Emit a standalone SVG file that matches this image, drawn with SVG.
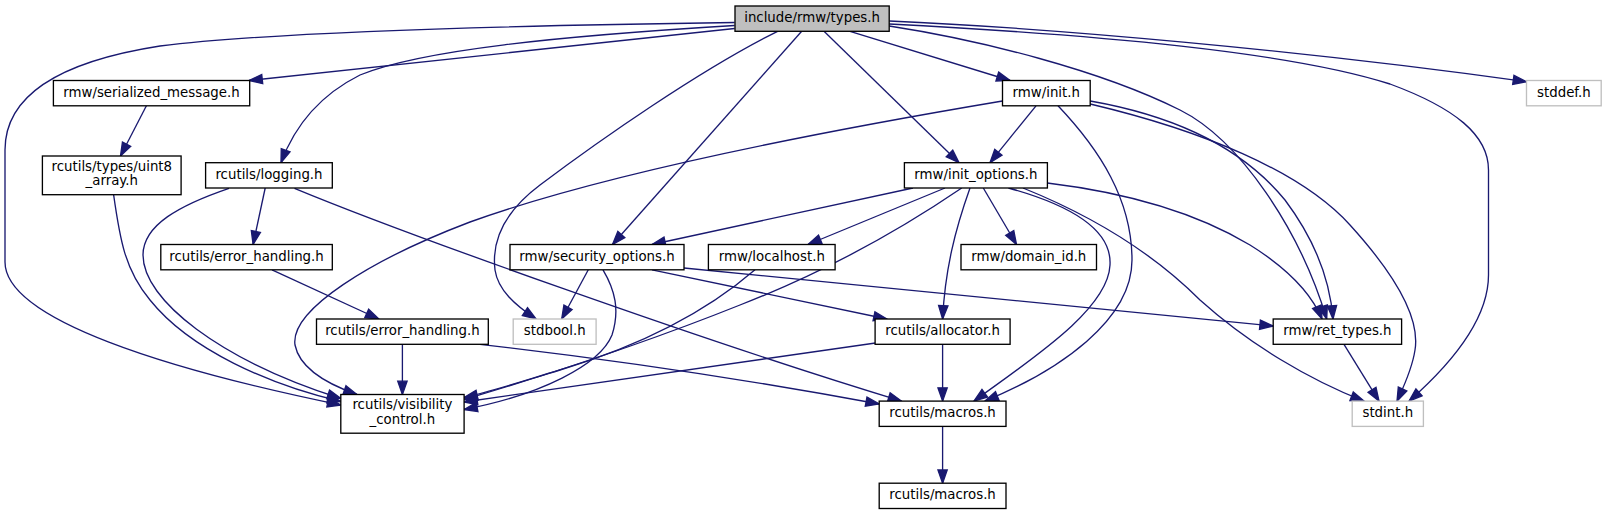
<svg xmlns="http://www.w3.org/2000/svg" width="1607" height="515" viewBox="0 0 1607 515">
<style>
.nd rect{fill:#ffffff;stroke:#000000;stroke-width:1.33}
.nd.g rect{stroke:#bfbfbf}
.nd.root rect{fill:#bfbfbf}
.nd text{font-family:"DejaVu Sans",Verdana,sans-serif;font-size:13.33px;text-anchor:middle;fill:#000000}
#edges path{fill:none;stroke:#191970;stroke-width:1.33;marker-end:url(#ah)}
</style>
<defs>
<marker id="ah" markerUnits="userSpaceOnUse" markerWidth="14" markerHeight="10" refX="13.3" refY="4.67" orient="auto" overflow="visible">
<path d="M0,0 L13.3,4.67 L0,9.33 Z" fill="#191970" stroke="#191970" stroke-width="1.33"/>
</marker>
</defs>
<rect width="1607" height="515" fill="#ffffff"/>
<g id="edges">
<path d="M734.6,28.5 L249,80.5"/>
<path d="M734.6,25.5 C560,36 420,50 360,75 C320,95 295,125 281,162.7"/>
<path d="M734.6,22.5 C550,25 280,31 160,46 C70,60 5,90 5,150 L5,262 C5,320 170,370 340.8,405"/>
<path d="M777.6,31.3 C700,70 600,140 540,185 C500,215 492,245 495,270 C498,290 515,305 536,319"/>
<path d="M801.7,31.3 L612.5,244.5"/>
<path d="M824,31.3 L959,162.7"/>
<path d="M850,31.3 L1010,80.5"/>
<path d="M889.2,26 C980,40 1100,70 1180,110 C1240,140 1300,230 1326.7,319"/>
<path d="M889.2,24 C1100,35 1290,52 1390,84 C1455,108 1488.5,135 1488.5,170 L1488.5,275 C1488.5,320 1450,365 1409,401.1"/>
<path d="M889.2,21 C1050,28 1300,50 1526.5,81.7"/>
<path d="M146.4,105.8 L120.5,156"/>
<path d="M113.6,194.7 C120,240 125,270 150,300 C190,350 270,385 340.8,401.5"/>
<path d="M265.2,188 L253.1,244.5"/>
<path d="M229,188.3 C180,205 143,225 143,255 C143,300 220,360 340.8,398.5"/>
<path d="M294.5,188.3 C400,232 700,340 901.5,401.1"/>
<path d="M272,269.8 L378.8,319"/>
<path d="M402.4,344.3 L402.4,394.5"/>
<path d="M480,344.3 C600,358 750,380 879.2,404"/>
<path d="M1036,105.8 L990,162.7"/>
<path d="M1002.5,101 C800,135 600,175 470,222 C370,260 290,310 295,345 C300,370 330,385 357,394.5"/>
<path d="M1090.2,101 C1170,115 1240,145 1285,200 C1315,240 1330,280 1333,319"/>
<path d="M1090.2,104 C1200,130 1300,170 1350,225 C1400,280 1420,320 1415,350 C1412,370 1403,388 1397,401.1"/>
<path d="M1058,105.8 C1100,150 1132,200 1132,260 C1132,320 1060,370 985,401.1"/>
<path d="M913,188 L652,244.5"/>
<path d="M945,188 L808,244.5"/>
<path d="M961.7,188 C900,230 830,270 740,305 C640,345 530,380 464,399.5"/>
<path d="M970,188 C955,230 945,270 942.6,319"/>
<path d="M983.3,188 L1016.5,244.5"/>
<path d="M1008.4,188 C1070,205 1112,230 1110,265 C1108,310 1030,360 974,401.1"/>
<path d="M1023,188 C1090,215 1150,250 1200,300 C1250,345 1310,380 1364,401.1"/>
<path d="M1047.3,183 C1130,193 1200,215 1250,245 C1290,270 1312,295 1322,319"/>
<path d="M588.3,269.8 L561.7,319"/>
<path d="M603,269.8 C615,290 620,310 612,335 C600,365 540,395 464,409.5"/>
<path d="M652,269.8 L887,319"/>
<path d="M684,268 L1273.2,326"/>
<path d="M755,269.8 C720,300 660,340 560,370 C520,382 490,392 464,397.5"/>
<path d="M875.5,343 L464,402"/>
<path d="M942.6,344.3 L942.6,401.1"/>
<path d="M942.6,426.4 L942.6,483.2"/>
<path d="M1344,344.3 L1379,401.1"/>
</g>
<g id="n_types" class="nd root"><rect x="735" y="6" width="154.2" height="25.3"/><text x="812.1" y="22">include/rmw/types.h</text></g>
<g id="n_serialized_message" class="nd"><rect x="53.4" y="80.5" width="196.3" height="25.3"/><text x="151.5" y="96.5">rmw/serialized_message.h</text></g>
<g id="n_init" class="nd"><rect x="1002.5" y="80.5" width="87.7" height="25.3"/><text x="1046.3" y="96.5">rmw/init.h</text></g>
<g id="n_stddef" class="nd g"><rect x="1526.5" y="80.5" width="74.7" height="25.3"/><text x="1563.9" y="96.5">stddef.h</text></g>
<g id="n_uint8_array" class="nd"><rect x="42.4" y="156" width="138.7" height="38.7"/><text x="111.8" y="170.7">rcutils/types/uint8</text><text x="111.8" y="185.4">_array.h</text></g>
<g id="n_logging" class="nd"><rect x="205.6" y="162.7" width="126.7" height="25.3"/><text x="269" y="178.7">rcutils/logging.h</text></g>
<g id="n_init_options" class="nd"><rect x="904.4" y="162.7" width="143" height="25.3"/><text x="975.9" y="178.7">rmw/init_options.h</text></g>
<g id="n_error_handling_1" class="nd"><rect x="160.8" y="244.5" width="171.5" height="25.3"/><text x="246.5" y="260.5">rcutils/error_handling.h</text></g>
<g id="n_security_options" class="nd"><rect x="510" y="244.5" width="174" height="25.3"/><text x="597" y="260.5">rmw/security_options.h</text></g>
<g id="n_localhost" class="nd"><rect x="708.4" y="244.5" width="126.7" height="25.3"/><text x="771.8" y="260.5">rmw/localhost.h</text></g>
<g id="n_domain_id" class="nd"><rect x="961" y="244.5" width="135.5" height="25.3"/><text x="1028.8" y="260.5">rmw/domain_id.h</text></g>
<g id="n_error_handling_2" class="nd"><rect x="316.5" y="319" width="171.8" height="25.3"/><text x="402.4" y="335">rcutils/error_handling.h</text></g>
<g id="n_stdbool" class="nd g"><rect x="513.2" y="319" width="82.9" height="25.3"/><text x="554.7" y="335">stdbool.h</text></g>
<g id="n_allocator" class="nd"><rect x="875.1" y="319" width="135" height="25.3"/><text x="942.6" y="335">rcutils/allocator.h</text></g>
<g id="n_ret_types" class="nd"><rect x="1273.2" y="319" width="128.4" height="25.3"/><text x="1337.4" y="335">rmw/ret_types.h</text></g>
<g id="n_visibility_control" class="nd"><rect x="340.8" y="394.5" width="123.3" height="38.7"/><text x="402.4" y="409.2">rcutils/visibility</text><text x="402.4" y="423.9">_control.h</text></g>
<g id="n_macros_1" class="nd"><rect x="879.2" y="401.1" width="126.8" height="25.3"/><text x="942.6" y="417.1">rcutils/macros.h</text></g>
<g id="n_stdint" class="nd g"><rect x="1352.2" y="401.1" width="71.2" height="25.3"/><text x="1387.8" y="417.1">stdint.h</text></g>
<g id="n_macros_2" class="nd"><rect x="879.2" y="483.2" width="126.8" height="25.3"/><text x="942.6" y="499.2">rcutils/macros.h</text></g>
</svg>
